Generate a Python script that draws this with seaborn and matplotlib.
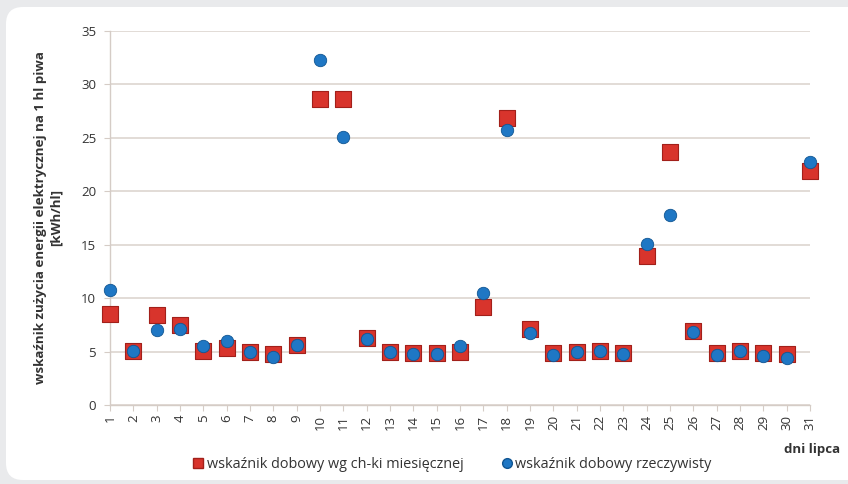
import pandas as pd
import matplotlib.pyplot as plt
import seaborn as sns
from matplotlib.patches import FancyBboxPatch

# data
days = list(range(1, 32))
monthly = [8.55, 5.05, 8.45, 7.5, 5.1, 5.3, 5.0, 4.8, 5.6, 28.6,
           28.6, 6.3, 5.0, 4.85, 4.85, 4.95, 9.2, 26.9, 7.1, 4.9,
           4.95, 5.05, 4.85, 13.9, 23.7, 6.9, 4.85, 5.1, 4.9, 4.75, 21.9]
actual = [10.8, 5.1, 7.0, 7.1, 5.5, 6.0, 5.0, 4.45, 5.65, 32.3,
          25.1, 6.2, 4.95, 4.8, 4.8, 5.5, 10.5, 25.7, 6.75, 4.7,
          5.0, 5.1, 4.75, 15.1, 17.8, 6.8, 4.7, 5.05, 4.55, 4.4, 22.7]
label_monthly = 'wskaźnik dobowy wg ch-ki miesięcznej'
label_actual = 'wskaźnik dobowy rzeczywisty'

df = pd.DataFrame({'day': days, 'monthly': monthly, 'actual': actual})

sns.set_style('white')
plt.rcParams['font.family'] = ['Open Sans', 'DejaVu Sans']

fig = plt.figure(figsize=(8.48, 4.84), dpi=100)
fig.patch.set_facecolor('#e9eaec')

# white rounded panel behind the chart
panel = FancyBboxPatch((6 / 848, 4 / 484), 1.2, 1 - 11 / 484,
                       boxstyle='round,pad=0,rounding_size=0.02',
                       transform=fig.transFigure, facecolor='white',
                       edgecolor='none', zorder=-5, mutation_aspect=848 / 484)
fig.patches.append(panel)

ax = fig.add_axes([110 / 848, 79 / 484, 700 / 848, 374 / 484])
ax.set_facecolor('none')
ax.set_zorder(2)

sns.scatterplot(data=df, x='day', y='monthly', marker='s', s=125,
                color='#d8342c', edgecolor='#a2201a', linewidth=0.8,
                ax=ax, zorder=3, legend=False, clip_on=False)
sns.scatterplot(data=df, x='day', y='actual', marker='o', s=80,
                color='#1f77c4', edgecolor='#105592', linewidth=0.6,
                ax=ax, zorder=4, legend=False, clip_on=False)

ax.set_xlim(1, 31)
ax.set_ylim(0, 35)
ax.set_xticks(days)
ax.set_xticklabels([str(d) for d in days], rotation=90, fontsize=9.5, color='#333333')
ax.set_yticks(range(0, 36, 5))
ax.set_yticklabels([str(v) for v in range(0, 36, 5)], fontsize=9.5, color='#333333')
ax.grid(axis='y', color='#ddd5cf', linewidth=1.2)
ax.grid(axis='x', visible=False)
for side in ['top', 'right']:
    ax.spines[side].set_visible(False)
for side in ['left', 'bottom']:
    ax.spines[side].set_color('#d5ccc6')
    ax.spines[side].set_linewidth(1.0)
ax.tick_params(axis='x', length=4, color='#d5ccc6', direction='out', bottom=True, pad=3)
ax.tick_params(axis='y', length=4, color='#d5ccc6', direction='out', left=True, pad=6)

ax.set_xlabel('')
ax.set_ylabel('wskaźnik zużycia energii elektrycznej na 1 hl piwa\n[kWh/hl]',
              fontsize=9.6, fontweight='bold', color='#333333', labelpad=13,
              linespacing=1.25)

fig.text(840 / 848, 1 - 449 / 484, 'dni lipca', ha='right', va='center',
         fontsize=9.5, fontweight='bold', color='#333333')

handles = [
    plt.Line2D([], [], marker='s', linestyle='none', markersize=7,
               markerfacecolor='#d8342c', markeredgecolor='#a2201a'),
    plt.Line2D([], [], marker='o', linestyle='none', markersize=7,
               markerfacecolor='#1f77c4', markeredgecolor='#105592'),
]
fig.legend(handles, [label_monthly, label_actual], loc='center',
           bbox_to_anchor=(452 / 848, 1 - 465 / 484), ncol=2, frameon=False,
           fontsize=10.4, handlelength=0.8, handletextpad=0.2, columnspacing=2.6,
           labelcolor='#333333')

fig.savefig('out.png', dpi=100)
